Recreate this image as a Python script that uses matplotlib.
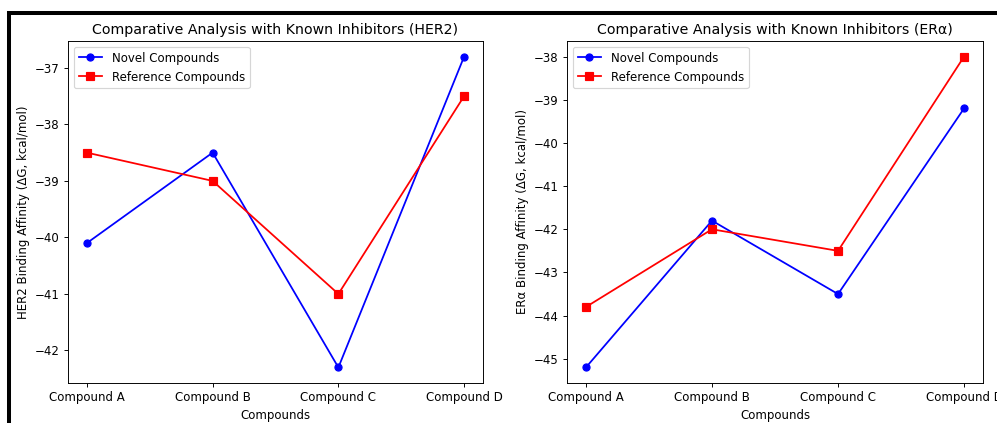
import matplotlib
matplotlib.use('Agg')
import matplotlib.pyplot as plt
from matplotlib.patches import Rectangle

# Data
compounds = ['Compound A', 'Compound B', 'Compound C', 'Compound D']
her2_novel = [-40.1, -38.5, -42.3, -36.8]
her2_reference = [-38.5, -39.0, -41.0, -37.5]
era_novel = [-45.2, -41.8, -43.5, -39.2]
era_reference = [-43.8, -42.0, -42.5, -38.0]

dpi = 85
fig = plt.figure(figsize=(998 / dpi, 423 / dpi), dpi=dpi)
ax1 = fig.add_axes([68 / 998, 1 - 383 / 423, 415 / 998, 342 / 423])
ax2 = fig.add_axes([567 / 998, 1 - 383 / 423, 416 / 998, 342 / 423])

ax1.plot(compounds, her2_novel, 'o-', color='blue', label='Novel Compounds')
ax1.plot(compounds, her2_reference, 's-', color='red', label='Reference Compounds')
ax1.set_title('Comparative Analysis with Known Inhibitors (HER2)', fontsize=12)
ax1.set_xlabel('Compounds')
ax1.set_ylabel('HER2 Binding Affinity (ΔG, kcal/mol)')
ax1.legend(loc='upper left')

ax2.plot(compounds, era_novel, 'o-', color='blue', label='Novel Compounds')
ax2.plot(compounds, era_reference, 's-', color='red', label='Reference Compounds')
ax2.set_title('Comparative Analysis with Known Inhibitors (ERα)', fontsize=12)
ax2.set_xlabel('Compounds')
ax2.set_ylabel('ERα Binding Affinity (ΔG, kcal/mol)')
ax2.legend(loc='upper left')

# black frame around the figure (cropped on right and bottom)
fig.patches.append(Rectangle((9 / 998, -0.2), 1.2, 1.2 - 12.5 / 423,
                             transform=fig.transFigure, fill=False,
                             edgecolor='black', linewidth=3.4, zorder=10))

fig.savefig('out.png', dpi=dpi)
